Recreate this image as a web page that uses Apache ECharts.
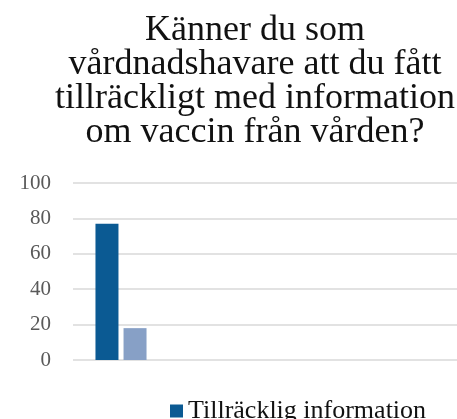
<!DOCTYPE html>
<html>
<head>
<meta charset="utf-8">
<script src="https://cdn.jsdelivr.net/npm/echarts@6/dist/echarts.min.js"></script>
<style>
  html, body { margin: 0; padding: 0; background: #fff; }
  #chart { width: 457px; height: 419px; }
</style>
</head>
<body>
<div id="chart"></div>
<script>
const titleText = "Känner du som\nvårdnadshavare att du fått\ntillräckligt med information\nom vaccin från vården?";
const categories = ["Svar"];
const seriesNames = ["Tillräcklig information", "Inte tillräcklig information"];
const seriesValues = [[77], [18]];
const yTicks = [0, 20, 40, 60, 80, 100];
const colors = ["#0B5A93", "#87A0C6"];

const serif = "Liberation Serif";

var myChart = echarts.init(document.getElementById("chart"));

let option = {
  animation: false,
  title: {
    text: titleText,
    left: 250,
    top: 9,
    textAlign: "center",
    textStyle: {
      fontFamily: serif,
      fontSize: 36,
      fontWeight: "normal",
      color: "#111",
      lineHeight: 34
    }
  },
  legend: {
    data: seriesNames,
    left: 165,
    top: 393,
    width: 290,
    itemWidth: 13,
    itemHeight: 13,
    itemGap: 20,
    icon: "rect",
    textStyle: {
      fontFamily: serif,
      fontSize: 26,
      color: "#111"
    }
  },
  grid: {
    left: 73,
    right: -15,
    top: 183,
    bottom: 59,
    containLabel: false
  },
  xAxis: {
    type: "category",
    data: categories,
    max: 3,
    axisLine: { show: false },
    axisTick: { show: false },
    axisLabel: { show: false }
  },
  yAxis: {
    type: "value",
    min: yTicks[0],
    max: yTicks[yTicks.length - 1],
    interval: 20,
    axisLine: { show: false },
    axisTick: { show: false },
    axisLabel: {
      margin: 22,
      fontFamily: serif,
      fontSize: 21,
      color: "#595959"
    },
    splitLine: {
      lineStyle: { color: "#d9d9d9", width: 1.5 }
    }
  },
  series: seriesNames.map(function(name, i) {
    return {
      name: name,
      type: "bar",
      data: seriesValues[i],
      barWidth: 23,
      barGap: "22%",
      itemStyle: { color: colors[i] }
    };
  })
};
myChart.setOption(option);
</script>
</body>
</html>
